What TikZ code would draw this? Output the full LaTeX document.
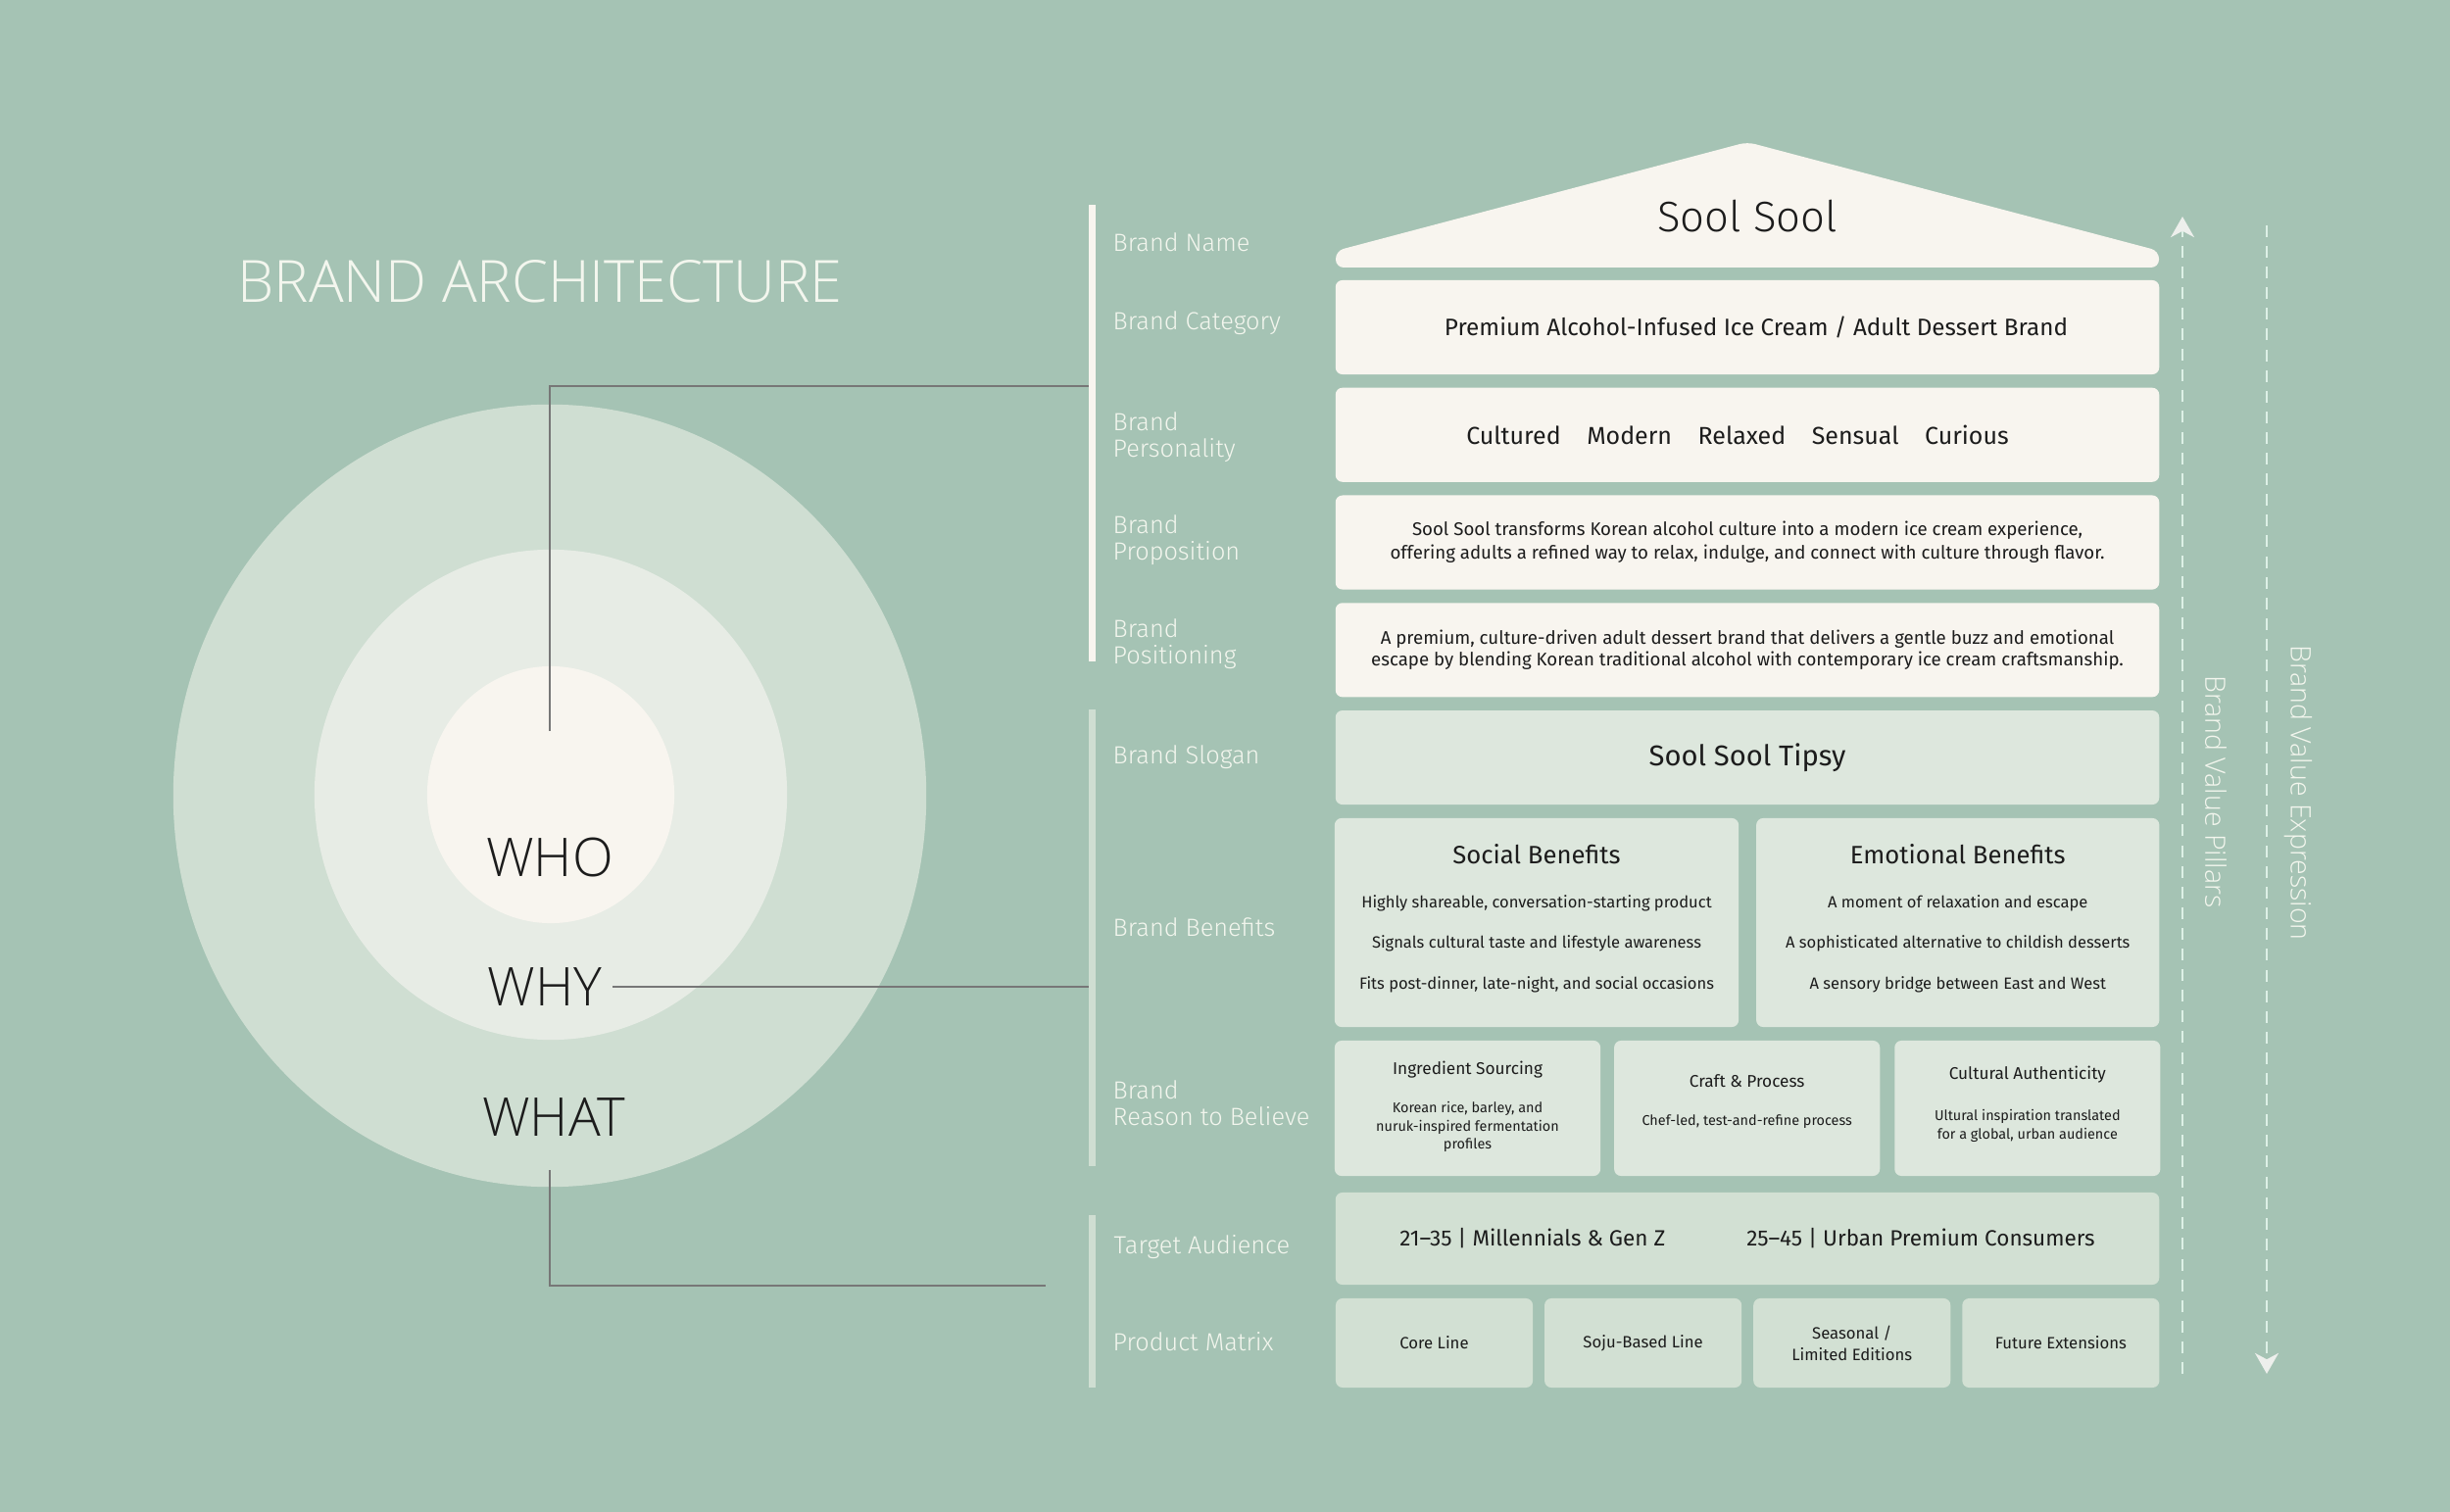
\documentclass[tikz,border=0pt]{standalone}
\usepackage{fontspec}
\IfFontExistsTF{FiraSans-Light.otf}{\setmainfont{FiraSans-Light.otf}}{\setmainfont{Fira Sans}}
\IfFontExistsTF{OpenSans-Light.ttf}{\newfontfamily\headfont{OpenSans-Light.ttf}}{\newfontfamily\headfont{Open Sans}}
\IfFontExistsTF{Fira Sans Light}{\newfontfamily\thinfont{Fira Sans Light}}{\newfontfamily\thinfont{OpenSans-Light.ttf}}
\usetikzlibrary{positioning, calc, shapes.geometric, arrows.meta}
\definecolor{sage}{HTML}{A5C3B4}
\definecolor{cream}{HTML}{F8F5EF}
\definecolor{ringouter}{HTML}{CFDED2}
\definecolor{ringmid}{HTML}{E7ECE5}
\definecolor{mint}{HTML}{DDE7DD}
\definecolor{mintdeep}{HTML}{D2E0D3}
\definecolor{linegray}{HTML}{777777}
\definecolor{labelwhite}{HTML}{F3F6EE}
\definecolor{ink}{HTML}{1C1C1C}
\definecolor{dashmint}{HTML}{DDF0E6}
\definecolor{tipwhite}{HTML}{EDEFEC}
\newcommand{\pxfont}[2]{\fontsize{#1pt}{#2pt}\selectfont}

\begin{document}
\begin{tikzpicture}[
        x=0.01cm, y=-0.01cm,
        node distance=0.137cm and 0.14cm,
        pillar/.style={rectangle, rounded corners=0.07cm, fill=cream, text=ink, inner sep=0pt, outer sep=0pt, minimum width=8.4cm, minimum height=0.96cm, align=center},
        pillarsoft/.style={pillar, fill=mint},
        pillarbase/.style={pillar, fill=mintdeep},
        ring/.style={ellipse, inner sep=0pt, outer sep=0pt},
        ringword/.style={text=ink, inner sep=0pt, font=\headfont\pxfont{15.5}{18}},
        bar/.style={rectangle, inner sep=0pt, outer sep=0pt, minimum width=0.07cm},
        rowlabel/.style={anchor=west, text=labelwhite, align=left, inner sep=0pt, font=\thinfont\pxfont{7.2}{7.7}},
        benefithead/.style={text=ink, inner sep=0pt, font=\pxfont{7.3}{8}},
        benefitbody/.style={text=ink, inner sep=0pt, align=center, font=\pxfont{4.7}{11.8}},
        rtbhead/.style={text=ink, inner sep=0pt, font=\pxfont{4.9}{6}},
        rtbbody/.style={text=ink, inner sep=0pt, align=center, font=\pxfont{4.1}{5.3}},
        sidelabel/.style={rotate=-90, text=labelwhite, inner sep=0pt, font=\headfont\pxfont{8.1}{9}},
        link/.style={draw=linegray, line width=0.55pt},
        flow/.style={draw=dashmint, line width=0.8pt, dash pattern=on 3.4pt off 2.6pt, -{Stealth[length=6pt, width=6.8pt, inset=1.8pt, color=tipwhite]}}
    ]
        % canvas
        \fill[sage] (0,0) rectangle (2500,1543);
        \useasboundingbox (0,0) rectangle (2500,1543);

        % title
        \node[anchor=west, text=labelwhite, inner sep=0pt, font=\headfont\pxfont{16.9}{19}] (TITLE) at (242,287) {BRAND ARCHITECTURE};

        % rings
        \node[ring, fill=ringouter, minimum width=7.68cm, minimum height=7.98cm] (WHATRING) at (561,812) {};
        \node[ring, fill=ringmid, minimum width=4.82cm, minimum height=5cm] (WHYRING) at (562,811) {};
        \node[ring, fill=cream, minimum width=2.52cm, minimum height=2.62cm] (WHORING) at (562,811) {};
        \node[ringword] (WHO) at (561,875) {WHO};
        \node[ringword] (WHY) at (556,1007) {WHY};
        \node[ringword] (WHAT) at (565,1140) {WHAT};

        % group bars
        \node[bar, fill=cream, minimum height=4.66cm] (BARTOP) at (1114,442) {};
        \node[bar, fill=ringouter, minimum height=4.66cm] (BARMID) at (1114,957) {};
        \node[bar, fill=ringouter, minimum height=1.76cm] (BARLOW) at (1114,1328) {};

        % connectors
        \coordinate (whoStart) at (561,746);
        \coordinate (whoEnd) at (1111,394);
        \coordinate (whatStart) at (561,1194);
        \coordinate (whatEnd) at (1067,1312);
        \draw[link] (whoStart) |- (whoEnd);
        \draw[link, shorten <=0.1cm] (WHY.east) -- (WHY.east -| BARMID.west);
        \draw[link] (whatStart) |- (whatEnd);

        % row labels
        \node[rowlabel] (LNAME) at (1135,247) {Brand Name};
        \node[rowlabel] (LCAT) at (1135,330) {Brand Category};
        \node[rowlabel] (LPERS) at (1135,446) {Brand\\Personality};
        \node[rowlabel] (LPROP) at (1135,551) {Brand\\Proposition};
        \node[rowlabel] (LPOS) at (1135,657) {Brand\\Positioning};
        \node[rowlabel] (LSLOG) at (1135,773) {Brand Slogan};
        \node[rowlabel] (LBEN) at (1135,946) {Brand Benefits};
        \node[rowlabel] (LRTB) at (1135,1126) {Brand\\Reason to Believe};
        \node[rowlabel] (LAUD) at (1136,1273) {Target Audience};
        \node[rowlabel] (LMAT) at (1135,1369) {Product Matrix};

        % roof
        \fill[cream, rounded corners=0.08cm] (1363,273) -- (1363,256) -- (1783,145) -- (2203,256) -- (2203,273) -- cycle;
        \node[text=ink, inner sep=0pt, font=\thinfont\pxfont{12.4}{15}] (NAME) at (1783,221) {Sool Sool};

        % upper pillars
        \node[pillar, font=\pxfont{6.9}{8}] (CAT) at (1783,334) {\hspace*{0.18cm}Premium Alcohol-Infused Ice Cream / Adult Dessert Brand};
        \node[pillar, below=of CAT, font=\pxfont{7.1}{8}] (PERS) {Cultured\hspace{0.2cm} Modern\hspace{0.2cm} Relaxed\hspace{0.2cm} Sensual\hspace{0.2cm} Curious\hspace*{0.2cm}};
        \node[pillar, below=of PERS, font=\pxfont{5.3}{6.8}] (PROP) {Sool Sool transforms Korean alcohol culture into a modern ice cream experience,\\offering adults a refined way to relax, indulge, and connect with culture through flavor.};
        \node[pillar, below=of PROP, font=\pxfont{5.3}{6.3}] (POS) {A premium, culture-driven adult dessert brand that delivers a gentle buzz and emotional\\escape by blending Korean traditional alcohol with contemporary ice cream craftsmanship.};

        % lower pillars
        \node[pillarsoft, below=of POS, font=\pxfont{8.3}{10}] (SLOGAN) {Sool Sool Tipsy};
        \node[pillarsoft, minimum width=4.12cm, minimum height=2.13cm] (SOCIAL) at (1568,941.5) {};
        \node[pillarsoft, minimum width=4.11cm, minimum height=2.13cm, right=0.18cm of SOCIAL] (EMOTION) {};
        \node[benefithead] (SOCIALH) at ($(SOCIAL.north)+(0,37)$) {Social Benefits};
        \node[benefitbody] (SOCIALB) at ($(SOCIAL.north)+(0,128)$) {Highly shareable, conversation-starting product\\Signals cultural taste and lifestyle awareness\\Fits post-dinner, late-night, and social occasions};
        \node[benefithead] (EMOTIONH) at ($(EMOTION.north)+(0,37)$) {Emotional Benefits};
        \node[benefitbody] (EMOTIONB) at ($(EMOTION.north)+(0,128)$) {A moment of relaxation and escape\\A sophisticated alternative to childish desserts\\A sensory bridge between East and West};

        \node[pillarsoft, minimum width=2.71cm, minimum height=1.38cm] (INGRED) at (1497.5,1131) {};
        \node[pillarsoft, minimum width=2.71cm, minimum height=1.38cm, right=of INGRED] (CRAFT) {};
        \node[pillarsoft, minimum width=2.71cm, minimum height=1.38cm, right=0.15cm of CRAFT] (CULT) {};
        \node[rtbhead] (INGREDH) at ($(INGRED.north)+(0,30)$) {Ingredient Sourcing};
        \node[rtbbody] (INGREDB) at ($(INGRED.north)+(0,88)$) {Korean rice, barley, and\\nuruk-inspired fermentation\\profiles};
        \node[rtbhead] (CRAFTH) at ($(CRAFT.north)+(0,41)$) {Craft \& Process};
        \node[rtbbody] (CRAFTB) at ($(CRAFT.north)+(0,83)$) {Chef-led, test-and-refine process};
        \node[rtbhead] (CULTH) at ($(CULT.north)+(0,35)$) {Cultural Authenticity};
        \node[rtbbody] (CULTB) at ($(CULT.north)+(0,87)$) {Ultural inspiration translated\\for a global, urban audience};

        \node[pillarbase, minimum height=0.94cm, font=\pxfont{6.4}{7}] (AUD) at (1783,1264) {21–35 | Millennials \& Gen Z\hspace{0.77cm} 25–45 | Urban Premium Consumers};
        \node[pillarbase, minimum width=2.01cm, minimum height=0.91cm, font=\pxfont{4.75}{6.2}] (CORE) at (1463.5,1370.5) {Core Line};
        \node[pillarbase, minimum width=2.01cm, minimum height=0.91cm, font=\pxfont{4.75}{6.2}, right=0.12cm of CORE] (SOJU) {Soju-Based Line};
        \node[pillarbase, minimum width=2.01cm, minimum height=0.91cm, font=\pxfont{4.75}{6.2}, right=0.12cm of SOJU] (SEASON) {Seasonal /\\Limited Editions};
        \node[pillarbase, minimum width=2.01cm, minimum height=0.91cm, font=\pxfont{4.75}{6.2}, right=0.12cm of SEASON] (FUTURE) {Future Extensions};

        % value arrows
        \coordinate (pillarLow) at (2227,1402);
        \coordinate (pillarHigh) at (2227,221);
        \coordinate (exprHigh) at (2313,230);
        \coordinate (exprLow) at (2313,1402);
        \draw[flow] (pillarLow) -- (pillarHigh);
        \draw[flow] (exprHigh) -- (exprLow);
        \node[sidelabel] (PILLARS) at (2261,808) {Brand Value Pillars};
        \node[sidelabel] (EXPR) at (2345,809) {Brand Value Expression};
    \end{tikzpicture}
\end{document}
